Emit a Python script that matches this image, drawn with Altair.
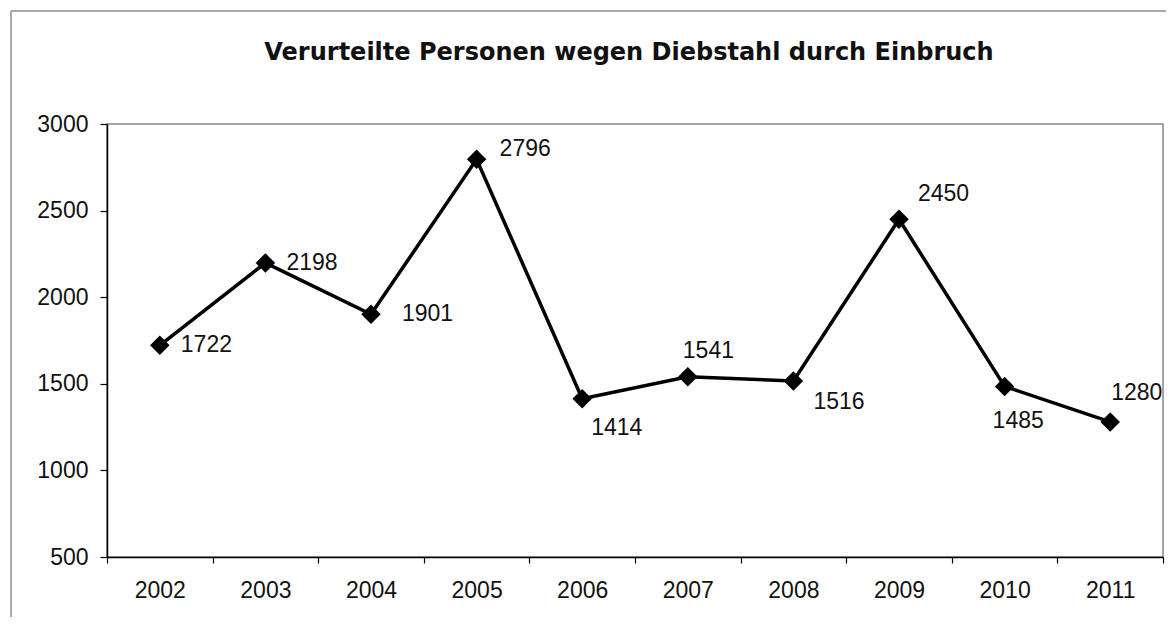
import altair as alt
import pandas as pd

# ---- data ----
years = ["2002", "2003", "2004", "2005", "2006", "2007", "2008", "2009", "2010", "2011"]
values = [1722, 2198, 1901, 2796, 1414, 1541, 1516, 2450, 1485, 1280]
y_ticks = [500, 1000, 1500, 2000, 2500, 3000]
title_text = "Verurteilte Personen wegen Diebstahl durch Einbruch"

df = pd.DataFrame({"year": years, "value": values})
one = pd.DataFrame({"k": [0]})

FONT = "Liberation Sans"
W, H = 1056, 433

x_enc = alt.X(
    "year:O",
    scale=alt.Scale(type="band", paddingInner=0, paddingOuter=0),
    axis=alt.Axis(
        title=None, labelAngle=0, tickBand="extent", tickSize=6, tickColor="#000",
        domainColor="#000", domainWidth=1.5, tickWidth=1.2, labelPadding=16,
        labelFont=FONT, labelFontSize=23, labelColor="#111",
    ),
)
y_enc = alt.Y(
    "value:Q",
    scale=alt.Scale(domain=[500, 3000], nice=False, zero=False),
    axis=alt.Axis(
        title=None, values=y_ticks, format="d", grid=False, tickSize=7, tickColor="#000",
        domainColor="#000", domainWidth=1.5, tickWidth=1.2, labelPadding=12,
        labelFont=FONT, labelFontSize=23, labelColor="#111",
    ),
)

base = alt.Chart(df).encode(x=x_enc, y=y_enc)

line = base.mark_line(color="#000", strokeWidth=3.5)
pts = base.mark_point(shape="diamond", filled=True, color="#000", size=380, opacity=1)

# label offsets (style only)
offsets = {
    "2002": (21, 0), "2003": (21, 0), "2004": (31, 0), "2005": (23, -10),
    "2006": (9, 29), "2007": (-5, -26), "2008": (20, 21), "2009": (19, -25),
    "2010": (-12, 35), "2011": (1, -29),
}
label_layers = []
for yr in years:
    dx, dy = offsets[yr]
    label_layers.append(
        base.transform_filter(alt.datum.year == yr)
        .mark_text(align="left", baseline="middle", dx=dx, dy=dy, font=FONT,
                   fontSize=23, color="#111")
        .encode(text="value:Q")
    )

title = alt.Chart(one).mark_text(
    text=title_text, font="DejaVu Sans", fontSize=24, fontWeight="bold",
    align="center", baseline="alphabetic", color="#111",
).encode(x=alt.value(522), y=alt.value(-64))

frame_left = alt.Chart(one).mark_rule(color="#aaa", strokeWidth=2).encode(
    x=alt.value(-96), y=alt.value(-113), y2=alt.value(H + 100))
frame_top = alt.Chart(one).mark_rule(color="#aaa", strokeWidth=2).encode(
    x=alt.value(-96), x2=alt.value(W + 100), y=alt.value(-113))

chart = alt.layer(
    frame_left, frame_top, title, line, pts, *label_layers
).properties(
    width=W, height=H,
    autosize=alt.AutoSizeParams(type="none"),
    padding={"left": 99, "top": 116, "right": 3, "bottom": 60},
).configure_view(
    stroke="#888", strokeWidth=1.5
)

chart.save("out.html", embed_options={"renderer": "svg", "actions": False})
